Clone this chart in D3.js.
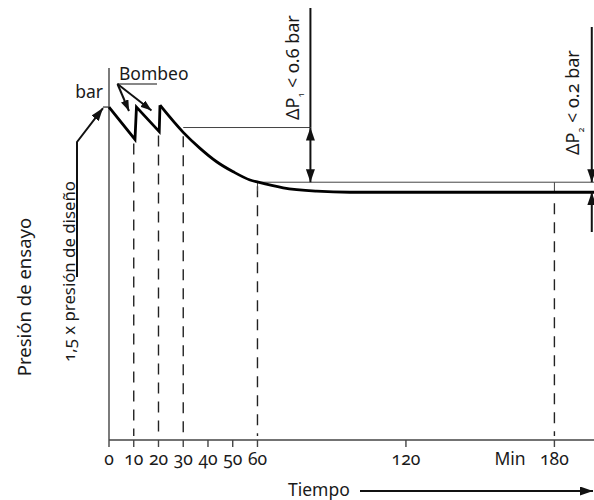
<!DOCTYPE html>
<html>
<head>
<meta charset="utf-8">
<script src="https://cdn.jsdelivr.net/npm/d3@7"></script>
<style>
  body { margin: 0; background: #fff; }
  svg text { font-family: "Noto Sans", Lato, sans-serif; fill: #1a1a1a; font-size: 17.5px;
             font-feature-settings: "onum" 1; font-variant-numeric: oldstyle-nums; }
</style>
</head>
<body>
<div class="chart"></div>
<script>
// tiempo (min) / presion (bar)
const pumpTimes  = [0, 10.5, 11.1, 20.3, 20.6];
const pumpValues = [8.95, 8.08, 8.95, 8.29, 9.0];

const decayTimes  = [20.6, 30.0, 36.8, 43.5, 50.2, 57.0, 60.3, 70.4, 83.9, 97.4, 196];
const decayValues = [9.0, 8.27, 7.84, 7.48, 7.21, 6.99, 6.93, 6.78, 6.69, 6.66, 6.66];

const xTicks = [0, 10, 20, 30, 40, 50, 60, 120, 180];
const dashTimes = [10, 20, 30, 60, 180];
const dashTops  = [8.08, 8.29, 8.27, 6.93, 6.66];

// niveles de referencia
const dp1Top = 8.40, dp1Bottom = 6.93, finalLevel = 6.66;
const dp1Time = 81.4, dp2Time = 195.1;

const W = 594, H = 500;

var x = d3.scaleLinear().domain([0, 196]).range([109, 594]);
var y = d3.scaleLinear().domain([0, 10]).range([440, 68]);

var svg = d3.select(".chart").append("svg")
    .attr("width", W).attr("height", H);

var defs = svg.append("defs");
function marker(id, len, wid) {
  defs.append("marker")
    .attr("id", id)
    .attr("markerUnits", "userSpaceOnUse")
    .attr("markerWidth", len).attr("markerHeight", wid)
    .attr("refX", len).attr("refY", wid / 2)
    .attr("orient", "auto-start-reverse")
    .append("path")
    .attr("d", "M0,0 L" + len + "," + wid / 2 + " L0," + wid + " Z")
    .attr("fill", "#111");
}
marker("arrow", 13, 9);
marker("arrowSmall", 11, 8);

// axes
svg.append("line")
  .attr("x1", x(0)).attr("x2", x(196))
  .attr("y1", y(0)).attr("y2", y(0))
  .attr("stroke", "#444").attr("stroke-width", 1.4);
svg.append("line")
  .attr("x1", x(0)).attr("x2", x(0))
  .attr("y1", y(0)).attr("y2", y(10))
  .attr("stroke", "#444").attr("stroke-width", 1.4);

var ticks = svg.selectAll(".tick").data(xTicks).enter().append("g")
  .attr("transform", d => "translate(" + x(d) + "," + y(0) + ")");
ticks.append("line").attr("y2", 7).attr("stroke", "#444").attr("stroke-width", 1.4);
ticks.append("text")
  .attr("y", 25)
  .attr("text-anchor", "middle")
  .text(d => d);

svg.append("text")
  .attr("x", 510).attr("y", 465)
  .attr("text-anchor", "middle")
  .text("Min");

// marca de inicio en el eje y
svg.append("line")
  .attr("x1", x(0) - 6).attr("x2", x(0))
  .attr("y1", y(pumpValues[0])).attr("y2", y(pumpValues[0]))
  .attr("stroke", "#444").attr("stroke-width", 1.4);

// lineas discontinuas
svg.selectAll(".dash").data(dashTimes).enter().append("line")
  .attr("x1", d => x(d)).attr("x2", d => x(d))
  .attr("y1", (d, i) => y(dashTops[i]) + (d == 180 ? 11 : 4))
  .attr("y2", y(0) - 4)
  .attr("stroke", "#222").attr("stroke-width", 1.4)
  .attr("stroke-dasharray", "11,8");

// niveles de referencia
svg.append("line")
  .attr("x1", x(30)).attr("x2", x(dp1Time))
  .attr("y1", y(dp1Top)).attr("y2", y(dp1Top))
  .attr("stroke", "#444").attr("stroke-width", 1);
svg.append("line")
  .attr("x1", x(60)).attr("x2", x(196))
  .attr("y1", y(dp1Bottom)).attr("y2", y(dp1Bottom))
  .attr("stroke", "#444").attr("stroke-width", 1);
svg.append("line")
  .attr("x1", x(180)).attr("x2", x(180))
  .attr("y1", y(dp1Bottom)).attr("y2", y(finalLevel))
  .attr("stroke", "#444").attr("stroke-width", 1);
svg.append("line")
  .attr("x1", x(60)).attr("x2", x(60))
  .attr("y1", y(dp1Bottom)).attr("y2", y(dp1Bottom) + 9)
  .attr("stroke", "#444").attr("stroke-width", 1);

// curva
var line = d3.line().x(d => x(d[0])).y(d => y(d[1]));
svg.append("path")
  .datum(d3.zip(pumpTimes, pumpValues))
  .attr("d", line)
  .attr("fill", "none").attr("stroke", "#000").attr("stroke-width", 2.8)
  .attr("stroke-linejoin", "miter");
svg.append("path")
  .datum(d3.zip(decayTimes, decayValues))
  .attr("d", line.curve(d3.curveMonotoneX))
  .attr("fill", "none").attr("stroke", "#000").attr("stroke-width", 2.8);

// delta P1
svg.append("line")
  .attr("x1", x(dp1Time)).attr("x2", x(dp1Time))
  .attr("y1", 8).attr("y2", y(dp1Top))
  .attr("stroke", "#111").attr("stroke-width", 2);
svg.append("line")
  .attr("x1", x(dp1Time)).attr("x2", x(dp1Time))
  .attr("y1", y(dp1Top)).attr("y2", y(dp1Bottom))
  .attr("stroke", "#111").attr("stroke-width", 2)
  .attr("marker-start", "url(#arrow)").attr("marker-end", "url(#arrow)");

// delta P2
svg.append("line")
  .attr("x1", x(dp2Time)).attr("x2", x(dp2Time))
  .attr("y1", 27).attr("y2", y(dp1Bottom))
  .attr("stroke", "#111").attr("stroke-width", 2)
  .attr("marker-end", "url(#arrow)");
svg.append("line")
  .attr("x1", x(dp2Time)).attr("x2", x(dp2Time))
  .attr("y1", 232).attr("y2", y(finalLevel))
  .attr("stroke", "#111").attr("stroke-width", 2)
  .attr("marker-end", "url(#arrow)");

function deltaLabel(px, py, sub, rest) {
  var t = svg.append("text")
    .attr("transform", "translate(" + px + "," + py + ") rotate(-90)")
    .style("font-size", "18px");
  t.append("tspan").text("\u0394P");
  t.append("tspan").attr("dy", 5).style("font-size", "9px").text(sub);
  t.append("tspan").attr("dy", -5).text(" " + rest);
}
deltaLabel(299, 120, "1", "< 0.6 bar");
deltaLabel(579, 155, "2", "< 0.2 bar");

// Bombeo
svg.append("text")
  .attr("x", 119).attr("y", 80)
  .text("Bombeo");
svg.append("line")
  .attr("x1", 117).attr("x2", 157).attr("y1", 84).attr("y2", 84)
  .attr("stroke", "#111").attr("stroke-width", 1.2);
[[129, 111], [151.5, 110.5]].forEach(function(p) {
  svg.append("line")
    .attr("x1", 117.5).attr("y1", 84).attr("x2", p[0]).attr("y2", p[1])
    .attr("stroke", "#111").attr("stroke-width", 2)
    .attr("marker-end", "url(#arrowSmall)");
});

// bar
svg.append("text")
  .attr("x", 103).attr("y", 98)
  .attr("text-anchor", "end")
  .text("bar");

// 1,5 x presion de diseno
svg.append("path")
  .attr("d", "M77,277 L77,142 L" + (x(0) - 6) + "," + (y(pumpValues[0]) + 1))
  .attr("fill", "none").attr("stroke", "#111").attr("stroke-width", 2)
  .attr("marker-end", "url(#arrow)");
svg.append("text")
  .attr("transform", "translate(75,362) rotate(-90)")
  .style("font-size", "16.8px")
  .text("1,5 x presión de diseño");

svg.append("text")
  .attr("transform", "translate(31,297) rotate(-90)")
  .attr("text-anchor", "middle")
  .style("font-size", "18.5px")
  .text("Presión de ensayo");

// Tiempo
svg.append("text")
  .attr("x", 288).attr("y", 496)
  .text("Tiempo");
svg.append("line")
  .attr("x1", 360).attr("x2", 593).attr("y1", 491).attr("y2", 491)
  .attr("stroke", "#111").attr("stroke-width", 2)
  .attr("marker-end", "url(#arrow)");
</script>
</body>
</html>
